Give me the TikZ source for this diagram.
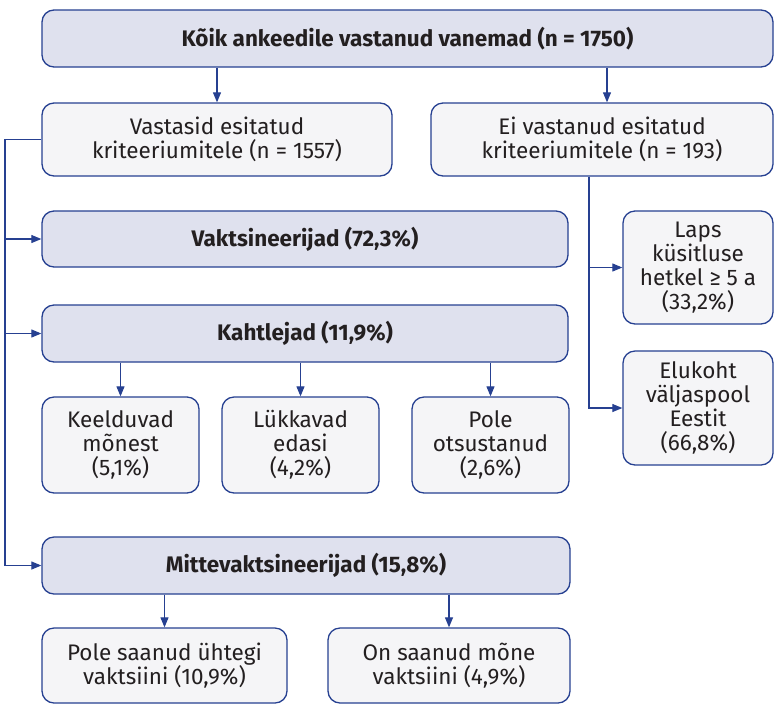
\documentclass[tikz,border=0pt]{standalone}
\usepackage{fontspec}
\setmainfont{Fira Sans}
\usetikzlibrary{arrows.meta}
\usetikzlibrary{positioning}
\usetikzlibrary{calc}

\definecolor{navy}{RGB}{38,64,145}
\definecolor{darkfill}{RGB}{223,225,238}
\definecolor{lightfill}{RGB}{245,245,247}
\definecolor{txt}{RGB}{35,31,32}

\tikzset{
  box/.style={draw=navy, line width=1.3pt, rounded corners=12pt, inner sep=0pt,
    align=center, text=txt, font=\fontsize{22.5}{24}\selectfont},
  headbox/.style={box, fill=darkfill, font=\fontsize{22.5}{24}\selectfont\bfseries},
  subbox/.style={box, fill=lightfill},
  link/.style={draw=navy, line width=1.1pt},
  arr/.style={link, -{Triangle[length=10pt,width=8pt]}}
}

\begin{document}
\begin{tikzpicture}[x=1pt,y=-1pt]
\useasboundingbox (0,0) rectangle (775,705);

  \node[headbox, minimum width=731pt, minimum height=57pt] (all) at (407.5,38.5)
    {Kõik ankeedile vastanud vanemad (n = 1750)};
  \node[subbox, minimum width=350pt, minimum height=73pt] (yes) at (217,139.5)
    {Vastasid esitatud\\kriteeriumitele (n = 1557)};
  \node[subbox, minimum width=342pt, minimum height=73pt] (no) at (602,139.5)
    {Ei vastanud esitatud\\kriteeriumitele (n = 193)};

  \node[headbox, minimum width=526pt, minimum height=56pt] (vakts) at (305,239)
    {Vaktsineerijad (72,3\%)};
  \node[headbox, minimum width=526pt, minimum height=57pt] (kaht) at (305,333.5)
    {Kahtlejad (11,9\%)};

  \node[subbox, minimum width=157pt, minimum height=96pt] (keeld) at (120.5,445)
    {Keelduvad\\mõnest\\(5,1\%)};
  \node[subbox, minimum width=157pt, minimum height=96pt] (lykk) at (300.5,445)
    {Lükkavad\\edasi\\(4,2\%)};
  \node[subbox, minimum width=157pt, minimum height=96pt] (pole) at (490.5,445)
    {Pole\\otsustanud\\(2,6\%)};

  \node[subbox, minimum width=150pt, minimum height=113pt] (laps) at (698,267.5)
    {Laps\\küsitluse\\hetkel ≥ 5 a\\(33,2\%)};
  \node[subbox, minimum width=150pt, minimum height=114pt] (eluk) at (698,408)
    {Elukoht\\väljaspool\\Eestit\\(66,8\%)};

  \node[headbox, minimum width=528pt, minimum height=57pt] (mitte) at (306,565.5)
    {Mittevaktsineerijad (15,8\%)};
  \node[subbox, minimum width=245pt, minimum height=75pt] (ykski) at (164.5,665.5)
    {Pole saanud ühtegi\\vaktsiini (10,9\%)};
  \node[subbox, minimum width=242pt, minimum height=75pt] (mone) at (449,665.5)
    {On saanud mõne\\vaktsiini (4,9\%)};

  % bus lines
  \coordinate (lbus) at (5,0);
  \coordinate (rbus) at (589,0);

  \draw[arr] (all.south -| yes) -- (yes.north);
  \draw[arr] ($(all.south -| no)+(5,0)$) -- ($(no.north)+(5,0)$);

  \draw[arr] (yes.west) -- (yes.west -| lbus) |- (mitte.west);
  \draw[arr] (vakts.west -| lbus) -- (vakts.west);
  \draw[arr] (kaht.west -| lbus) -- (kaht.west);

  \foreach \c in {keeld,lykk,pole}
    \draw[arr] (kaht.south -| \c) -- (\c.north);

  \draw[arr] (no.south -| rbus) |- (eluk.west);
  \draw[arr] (laps.west -| rbus) -- (laps.west);

  \draw[arr] (mitte.south -| ykski) -- (ykski.north);
  \draw[arr] (mitte.south -| mone) -- (mone.north);
\end{tikzpicture}
\end{document}
